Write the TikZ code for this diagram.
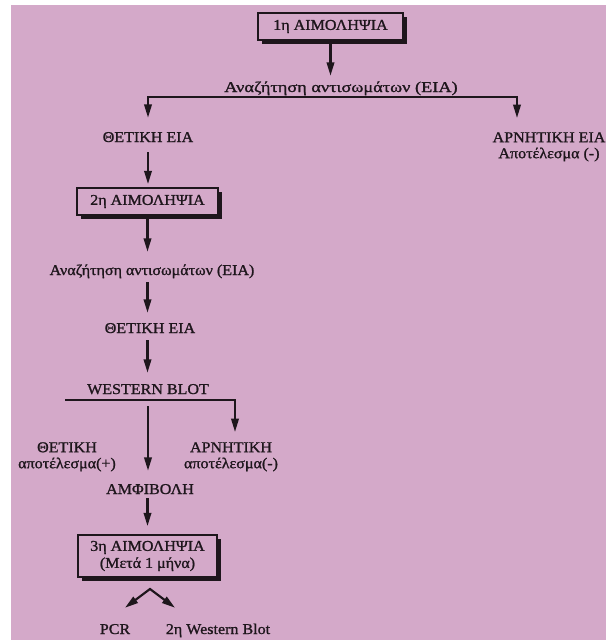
\documentclass[tikz,border=0pt]{standalone}
\usepackage{graphicx}
\usepackage{fontspec}
\setmainfont{Liberation Serif}[FakeStretch=1.07,FakeBold=1.2]
\usetikzlibrary{arrows.meta,calc,shadows}
\definecolor{bgpink}{RGB}{212,169,201}
\definecolor{ink}{RGB}{30,22,28}
\begin{document}
\begin{tikzpicture}[x=0.75pt,y=-0.75pt,
  every node/.style={font=\fontsize{11.25}{12}\selectfont, text=ink},
  lbl/.style={inner sep=0pt, text height=9pt, text depth=3pt},
  two/.style={inner sep=0pt, align=center, anchor=north},
  box/.style={draw=ink, line width=1.3pt, fill=bgpink, inner sep=0pt, align=center,
    drop shadow={shadow xshift=3.2pt, shadow yshift=-3pt, opacity=1, fill=ink}},
  arr/.style={draw=ink, line width=1.6pt, -{Triangle[width=5.6pt,length=10pt]}},
  dbl/.style={draw=ink, line width=1.6pt, line join=miter,
    {Triangle[width=5.6pt,length=10pt]}-{Triangle[width=5.6pt,length=10pt]}}]
\fill[white] (0,0) rectangle (606,640);
\fill[bgpink] (11,5) rectangle (606,640);
\useasboundingbox (0,0) rectangle (606,640);

% nodes
\node[box, minimum width=108.75pt, minimum height=20.25pt] (b1) at (330.5,26.5) {1η ΑΙΜΟΛΗΨΙΑ};
\node[lbl] (s1) at (341,88) {\scalebox{1.14}[1]{Αναζήτηση αντισωμάτων (ΕΙΑ)}};
\node[lbl] (p1) at (148,138) {ΘΕΤΙΚΗ ΕΙΑ};
\node[two] (n1) at (549,132) {ΑΡΝΗΤΙΚΗ ΕΙΑ\\Αποτέλεσμα (-)};
\node[box, minimum width=105.75pt, minimum height=20.25pt] (b2) at (147.5,201.5) {2η ΑΙΜΟΛΗΨΙΑ};
\node[lbl] (s2) at (152,271) {Αναζήτηση αντισωμάτων (ΕΙΑ)};
\node[lbl] (p2) at (150,329) {ΘΕΤΙΚΗ ΕΙΑ};
\node[lbl] (wb) at (148,390) {WESTERN BLOT};
\node[two] (pos) at (67,442) {ΘΕΤΙΚΗ\\αποτέλεσμα(+)};
\node[two] (neg) at (231,442) {ΑΡΝΗΤΙΚΗ\\αποτέλεσμα(-)};
\node[lbl] (amf) at (150,490) {ΑΜΦΙΒΟΛΗ};
\node[box, minimum width=104.25pt, minimum height=31.5pt, font=\fontsize{11.25}{12.75}\selectfont] (b3) at (147.5,556) {3η ΑΙΜΟΛΗΨΙΑ\\(Μετά 1 μήνα)};
\node[lbl] (pcr) at (115,630) {PCR};
\node[lbl] (wb2) at (218,630) {2η Western Blot};

% junction coordinates
\coordinate (hR) at (517,97);
\coordinate (wL) at (65,400);
\coordinate (wR) at (235,400);
\coordinate (ap) at (150,589);

% connectors
\draw[arr] (b1.south) -- ($(b1.south |- s1.north)+(0,-4)$);
\draw[dbl] ($(p1.north)+(0,-12)$) |- (hR) -- ($(hR |- n1.north)+(0,-14)$);
\draw[arr] ($(p1.south)+(0,6)$) -- ($(b2.north -| p1.south)+(0,-3)$);
\draw[arr] (b2.south) -- ($(b2.south |- s2.north)+(0,-11)$);
\draw[arr] ($(s2.south -| b2.south)+(0,3)$) -- ($(p2.north -| b2.south)+(0,-8)$);
\draw[arr] ($(p2.south -| b2.south)+(0,3)$) -- ($(wb.north -| b2.south)+(0,-9)$);
\draw[arr] (wL) -- (wR) -- ($(wR |- neg.north)+(0,-10)$);
\draw[arr] ($(wb.south)+(0,8)$) -- ($(amf.north -| wb.south)+(0,-11)$);
\draw[arr] (amf.south -| b3.north) -- ($(b3.north)+(0,-8)$);
\draw[dbl] ($(pcr.north)+(10,-14)$) -- (ap) -- ($(wb2.north)+(-43,-14)$);
\end{tikzpicture}
\end{document}
